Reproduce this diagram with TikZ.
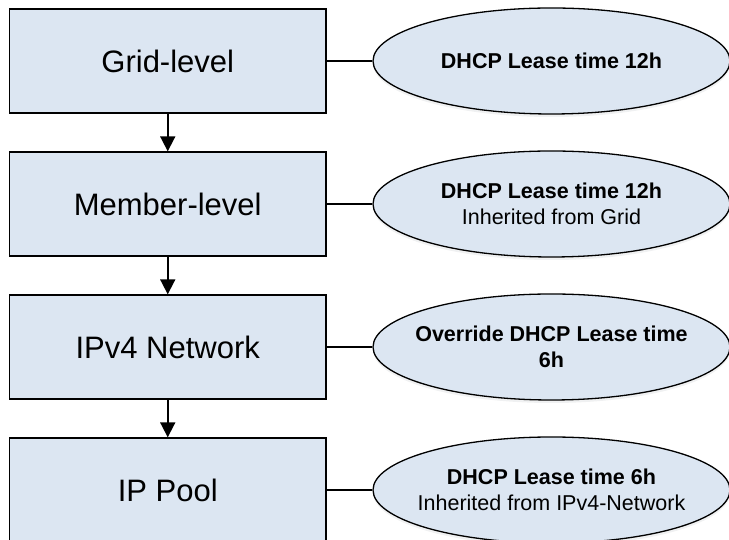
\documentclass[tikz,border=0pt]{standalone}
\usepackage{fontspec}
\setmainfont{Liberation Sans}
\usetikzlibrary{shapes.geometric,arrows.meta,shadows}
\definecolor{paleblue}{HTML}{DCE6F2}
\tikzset{
  level/.style={draw=black, line width=1.3pt, fill=paleblue,
    minimum width=316.5pt, minimum height=104pt, inner sep=0pt,
    font=\fontsize{31}{37}\selectfont},
  setting/.style={ellipse, draw=black, line width=1.3pt, fill=paleblue,
    minimum width=357pt, minimum height=106pt, inner sep=0pt,
    drop shadow={shadow xshift=0pt, shadow yshift=-3pt, opacity=0.12, fill=paleblue!60!black}},
  settingtext/.style={align=center, inner sep=0pt,
    font=\fontsize{21.5}{26.5}\selectfont},
  down/.style={line width=1.8pt, -{Triangle[length=15pt, width=15pt]}},
  link/.style={line width=1.5pt}
}
\begin{document}
\begin{tikzpicture}[x=1pt, y=1pt]
\useasboundingbox (0,0) rectangle (729,540);
% hierarchy of configuration levels
\node[level] (grid)   at (167.75,479) {Grid-level};
\node[level] (member) at (167.75,336) {Member-level};
\node[level] (net)    at (167.75,193) {IPv4 Network};
\node[level] (pool)   at (167.75,50)  {IP Pool};
% lease-time setting at each level (fixed-size ellipses, text on top)
\node[setting] (s1) at (551.5,479) {};
\node[setting] (s2) at (551.5,336) {};
\node[setting] (s3) at (551.5,193) {};
\node[setting] (s4) at (551.5,50)  {};
\node[settingtext] (t1) at (s1.center) {\textbf{DHCP Lease time 12h}};
\node[settingtext] (t2) at (s2.center) {\textbf{DHCP Lease time 12h}\\Inherited from Grid};
\node[settingtext] (t3) at (s3.center) {\textbf{Override DHCP Lease time}\\\textbf{6h}};
\node[settingtext] (t4) at (s4.center) {\textbf{DHCP Lease time 6h}\\Inherited from IPv4-Network};
% inheritance arrows
\draw[down] (grid.south) -- (member.north);
\draw[down] (member.south) -- (net.north);
\draw[down] (net.south) -- (pool.north);
% level-to-setting links
\draw[link] (grid.east) -- (s1.west);
\draw[link] (member.east) -- (s2.west);
\draw[link] (net.east) -- (s3.west);
\draw[link] (pool.east) -- (s4.west);
\end{tikzpicture}
\end{document}
